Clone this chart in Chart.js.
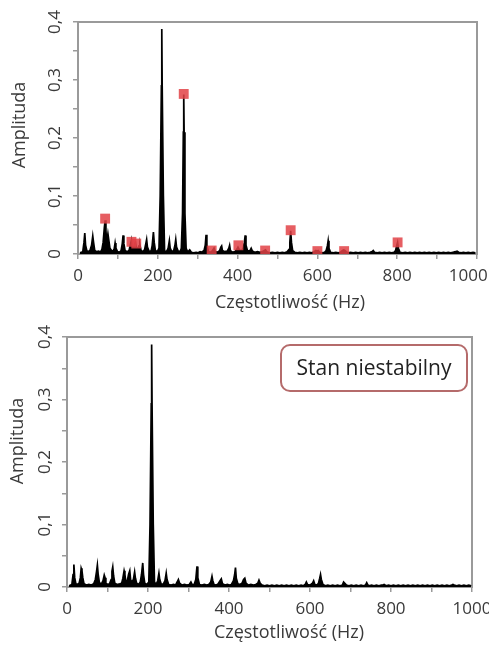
<!DOCTYPE html>
<html><head><meta charset="utf-8">
<script src="https://cdn.jsdelivr.net/npm/chart.js@4.4.0/dist/chart.umd.min.js"></script>
<style>
html,body{margin:0;padding:0;background:#fff;}
#wrap{position:relative;width:489px;height:648px;overflow:hidden;background:#fff;}
.c{position:absolute;left:0;width:489px;}
</style></head><body>
<div id="wrap">
<div class="c" style="top:0;height:325px"><canvas id="topC"></canvas></div>
<div class="c" style="top:325px;height:323px"><canvas id="botC"></canvas></div>
</div>
<script>
// ---- tick labels ----
const xTicks = [0, 200, 400, 600, 800, 1000];
const yTicks = [0, 0.1, 0.2, 0.3, 0.4];
const xTitle = 'Częstotliwość (Hz)';
const yTitle = 'Amplituda';
const noteText = 'Stan niestabilny';

// ---- top spectrum (Hz, amplitude) ----
const topFreq = [
 5,12,15,17,19,22,25,30,34,37,
 39,42,47,52,56,60,63,66,68,70,
 72,75,77,80,84,88,91,93,95,99,
 104,108,111,113,115,118,123,128,131,134,
 136,139,142,144,146,149,153,155,158,163,
 167,170,172,174,178,183,186,189,191,194,
 199,203,206,209,210,211,214,217,
 222,226,229,231,235,240,243,245,247,251,
 256,259,262,264,265,266,268,271,274,
 276,280,284,290,296,301,306,310,316,319,
 321,323,327,333,337,341,344,350,355,358,
 360,362,368,374,378,380,382,387,393,398,
 401,404,409,414,417,419,421,425,431,434,
 437,443,450,456,462,467,470,473,480,487,
 494,500,506,512,518,524,529,531,533,535,
 538,543,550,556,562,568,574,580,586,592,
 596,599,602,606,612,618,622,625,627,629,
 633,640,646,652,658,663,666,669,672,677,
 683,690,696,702,708,714,720,726,732,737,
 740,743,750,756,762,768,774,780,786,792,
 796,799,801,803,807,814,820,826,832,838,
 844,850,856,862,868,874,880,886,892,898,
 904,910,916,922,928,934,940,946,950,954,
 960,966,972,978,984,990,996];
const topAmp = [
 .002,.004,.02,.036,.015,.006,.004,.006,.015,.031,
 .02,.006,.004,.005,.003,.008,.02,.045,.058,.04,
 .02,.035,.025,.01,.006,.005,.01,.019,.01,.004,
 .003,.006,.018,.032,.018,.006,.004,.006,.015,.024,
 .012,.01,.018,.02,.012,.008,.014,.016,.006,.004,
 .008,.018,.025,.012,.005,.004,.015,.038,.02,.006,
 .004,.01,.1,.29,.388,.29,.1,.005,
 .004,.01,.023,.01,.004,.006,.015,.025,.012,.005,
 .004,.01,.07,.21,.275,.21,.07,.01,.005,
 .004,.007,.003,.002,.003,.002,.004,.003,.006,.015,
 .033,.015,.004,.003,.006,.01,.004,.003,.006,.012,
 .014,.006,.004,.005,.01,.015,.006,.003,.004,.008,
 .012,.008,.005,.01,.02,.032,.015,.005,.006,.01,
 .005,.003,.004,.003,.004,.006,.007,.004,.002,.003,
 .002,.003,.002,.003,.002,.004,.008,.02,.04,.02,
 .006,.003,.002,.003,.002,.003,.002,.003,.002,.004,
 .006,.005,.006,.003,.002,.003,.006,.014,.023,.01,
 .003,.002,.003,.002,.003,.006,.007,.006,.004,.002,
 .003,.002,.003,.002,.003,.002,.003,.002,.003,.004,
 .006,.003,.002,.003,.002,.003,.002,.003,.002,.003,
 .006,.015,.02,.01,.003,.002,.003,.002,.003,.002,
 .003,.002,.003,.002,.003,.002,.003,.002,.003,.002,
 .003,.002,.003,.002,.003,.002,.003,.004,.005,.003,
 .002,.003,.002,.003,.002,.003,.002];

// ---- top harmonic markers ----
const topMarkFreq = [68, 134, 146, 265, 335, 402, 469, 533, 600, 667, 801];
const topMarkAmp  = [0.061, 0.021, 0.018, 0.276, 0.006, 0.015, 0.006, 0.041, 0.005, 0.005, 0.02];

// ---- bottom spectrum (Hz, amplitude) ----
const botFreq = [
 5,12,15,17,19,22,26,30,33,35,
 37,39,42,48,54,60,66,70,73,75,
 77,80,85,89,92,94,96,100,105,109,
 111,113,115,118,124,130,135,138,141,143,
 145,149,152,155,157,160,164,167,169,172,
 177,181,184,187,189,192,197,202,205,
 208,209,210,213,216,220,224,227,229,
 233,238,242,245,247,251,257,263,268,272,
 275,278,284,290,296,302,306,309,314,318,
 321,323,327,333,339,345,350,355,358,360,
 363,368,373,378,381,384,390,396,401,406,
 411,414,416,418,422,427,432,436,439,442,
 448,454,460,466,471,474,477,482,488,494,
 500,506,512,518,524,530,536,542,548,554,
 560,566,572,578,584,588,591,594,600,606,
 609,612,617,621,624,626,628,632,638,644,
 650,656,662,668,674,680,683,686,690,696,
 702,708,714,720,726,732,737,740,743,746,
 752,758,764,770,776,780,783,788,794,800,
 806,812,818,824,830,836,842,848,854,860,
 866,872,878,884,890,896,902,908,914,920,
 926,932,938,944,950,953,956,962,968,974,
 980,986,992,998];
const botAmp = [
 .002,.004,.02,.036,.015,.005,.004,.006,.015,.03,
 .026,.015,.005,.003,.004,.003,.005,.012,.025,.035,
 .02,.007,.005,.01,.019,.015,.006,.004,.005,.012,
 .025,.032,.018,.006,.004,.005,.006,.014,.026,.02,
 .01,.01,.02,.026,.012,.008,.012,.024,.014,.006,
 .004,.008,.02,.0385,.02,.006,.004,.008,.1,
 .293,.388,.293,.1,.008,.004,.01,.022,.012,
 .004,.005,.01,.022,.012,.004,.003,.004,.003,.008,
 .012,.006,.003,.004,.003,.004,.008,.004,.004,.012,
 .033,.015,.004,.003,.004,.003,.004,.008,.017,.01,
 .004,.003,.005,.01,.013,.005,.003,.004,.003,.004,
 .01,.02,.031,.014,.005,.004,.006,.012,.014,.006,
 .003,.004,.003,.004,.006,.011,.006,.003,.002,.003,
 .002,.003,.002,.003,.002,.003,.002,.003,.002,.003,
 .002,.003,.002,.003,.002,.004,.008,.004,.003,.006,
 .01,.004,.003,.006,.014,.02,.012,.004,.002,.003,
 .002,.003,.002,.003,.002,.003,.008,.006,.003,.002,
 .003,.002,.003,.002,.003,.002,.003,.007,.003,.002,
 .003,.002,.003,.002,.003,.003,.004,.002,.003,.002,
 .003,.002,.003,.002,.003,.002,.003,.002,.003,.002,
 .003,.002,.003,.002,.003,.002,.003,.002,.003,.002,
 .003,.002,.003,.002,.003,.004,.003,.002,.003,.002,
 .003,.002,.003,.002];

// ---- styling ----
const FONT = '"Open Sans", sans-serif';
const TXT = '#3a3a3a';
const AXIS = '#9a9a9a';

function fmtY(v) {
  const m = yTicks.find(t => Math.abs(t - v) < 1e-9);
  if (m === undefined) return '';
  return m === 0 ? '0' : String(m).replace('.', ',');
}
function fmtX(v, lastPad) {
  const m = xTicks.find(t => Math.abs(t - v) < 1e-9);
  if (m === undefined) return '';
  let s = String(m);
  if (m === xTicks[xTicks.length - 1] && lastPad) s += ' '.repeat(lastPad);
  return s;
}
function pts(f, a) { return f.map((x, i) => ({x: x, y: a[i]})); }

const textPlugin = {
  id: 'texts',
  afterDraw(chart, args, o) {
    const ctx = chart.ctx;
    ctx.save();
    ctx.fillStyle = TXT;
    ctx.font = '18px ' + FONT;
    ctx.textAlign = 'center';
    ctx.textBaseline = 'middle';
    ctx.fillText(xTitle, o.xt[0], o.xt[1]);
    ctx.translate(o.yt[0], o.yt[1]);
    ctx.rotate(-Math.PI / 2);
    ctx.fillText(yTitle, 0, 0);
    ctx.restore();
    if (o.note) {
      const n = o.note;
      ctx.save();
      ctx.beginPath();
      ctx.roundRect(n.x, n.y, n.w, n.h, 9);
      ctx.fillStyle = '#fff';
      ctx.fill();
      ctx.lineWidth = 2;
      ctx.strokeStyle = '#b56b6b';
      ctx.stroke();
      ctx.fillStyle = '#222';
      ctx.font = '21px ' + FONT;
      ctx.textAlign = 'center';
      ctx.textBaseline = 'middle';
      ctx.fillText(noteText, n.x + n.w / 2, n.y + n.h / 2 + 1);
      ctx.restore();
    }
  }
};

function makeChart(id, freq, amp, markF, markA, g) {
  const datasets = [];
  if (markF) {
    datasets.push({
      data: pts(markF, markA), pointStyle: 'rect', pointRadius: 7, pointHoverRadius: 7,
      backgroundColor: 'rgba(226,66,70,0.85)', borderWidth: 0, showLine: false,
      xAxisID: 'x', yAxisID: 'y'
    });
  }
  datasets.push({
    data: pts(freq, amp), showLine: true, borderColor: '#000', borderWidth: 1.7,
    backgroundColor: '#000', fill: 'origin',
    pointRadius: 0, pointHoverRadius: 0, tension: 0,
    xAxisID: 'x', yAxisID: 'y'
  });
  const gridOpt = {display: true, drawOnChartArea: false, drawTicks: true, tickLength: 5, color: AXIS, lineWidth: 1.5};
  const borderOpt = {display: true, color: AXIS, width: 2};
  new Chart(document.getElementById(id), {
    type: 'scatter',
    data: {datasets},
    options: {
      responsive: true, maintainAspectRatio: false, animation: false,
      layout: {padding: {top: g.top, right: g.W - g.right, left: 0, bottom: 0}},
      plugins: {legend: {display: false}, tooltip: {enabled: false}, filler: {propagate: false},
        texts: {xt: g.xt, yt: g.yt, note: g.note}},
      scales: {
        x: {type: 'linear', position: 'bottom', min: 0, max: 1000,
          ticks: {stepSize: 100, autoSkip: false, minRotation: 0, maxRotation: 0, padding: g.xPad,
            color: TXT, font: {family: FONT, size: 17}, callback: v => fmtX(v, g.lastPad)},
          grid: gridOpt, border: borderOpt,
          afterFit: s => { s.height = g.H - g.bottom; s.paddingLeft = 0; s.paddingRight = 0; }
        },
        y: {type: 'linear', position: 'left', min: 0, max: 0.4,
          ticks: {stepSize: 0.05, autoSkip: false, minRotation: 90, maxRotation: 90, crossAlign: 'center',
            padding: g.yPad, color: TXT, font: {family: FONT, size: 17}, callback: v => fmtY(v)},
          grid: gridOpt, border: borderOpt,
          afterFit: s => { s.width = g.left; s.paddingTop = 0; s.paddingBottom = 0; }
        },
        x2: {type: 'linear', position: 'top', min: 0, max: 1000,
          ticks: {display: false}, grid: {display: false, drawTicks: false}, border: borderOpt,
          afterFit: s => { s.height = 0; }
        },
        y2: {type: 'linear', position: 'right', min: 0, max: 0.4,
          ticks: {display: false}, grid: {display: false, drawTicks: false}, border: borderOpt,
          afterFit: s => { s.width = 0; }
        }
      }
    },
    plugins: [textPlugin]
  });
}

makeChart('topC', topFreq, topAmp, topMarkFreq, topMarkAmp, {
  W: 489, H: 325, left: 78, top: 22, right: 477, bottom: 254,
  xPad: 7, yPad: 6, lastPad: 4, xt: [290, 303], yt: [20, 125], note: null
});
makeChart('botC', botFreq, botAmp, null, null, {
  W: 489, H: 323, left: 67, top: 12, right: 472, bottom: 262,
  xPad: 7, yPad: 5, lastPad: 0, xt: [289, 308], yt: [18, 116],
  note: {x: 281, y: 20, w: 186, h: 46}
});
</script>
</body></html>
